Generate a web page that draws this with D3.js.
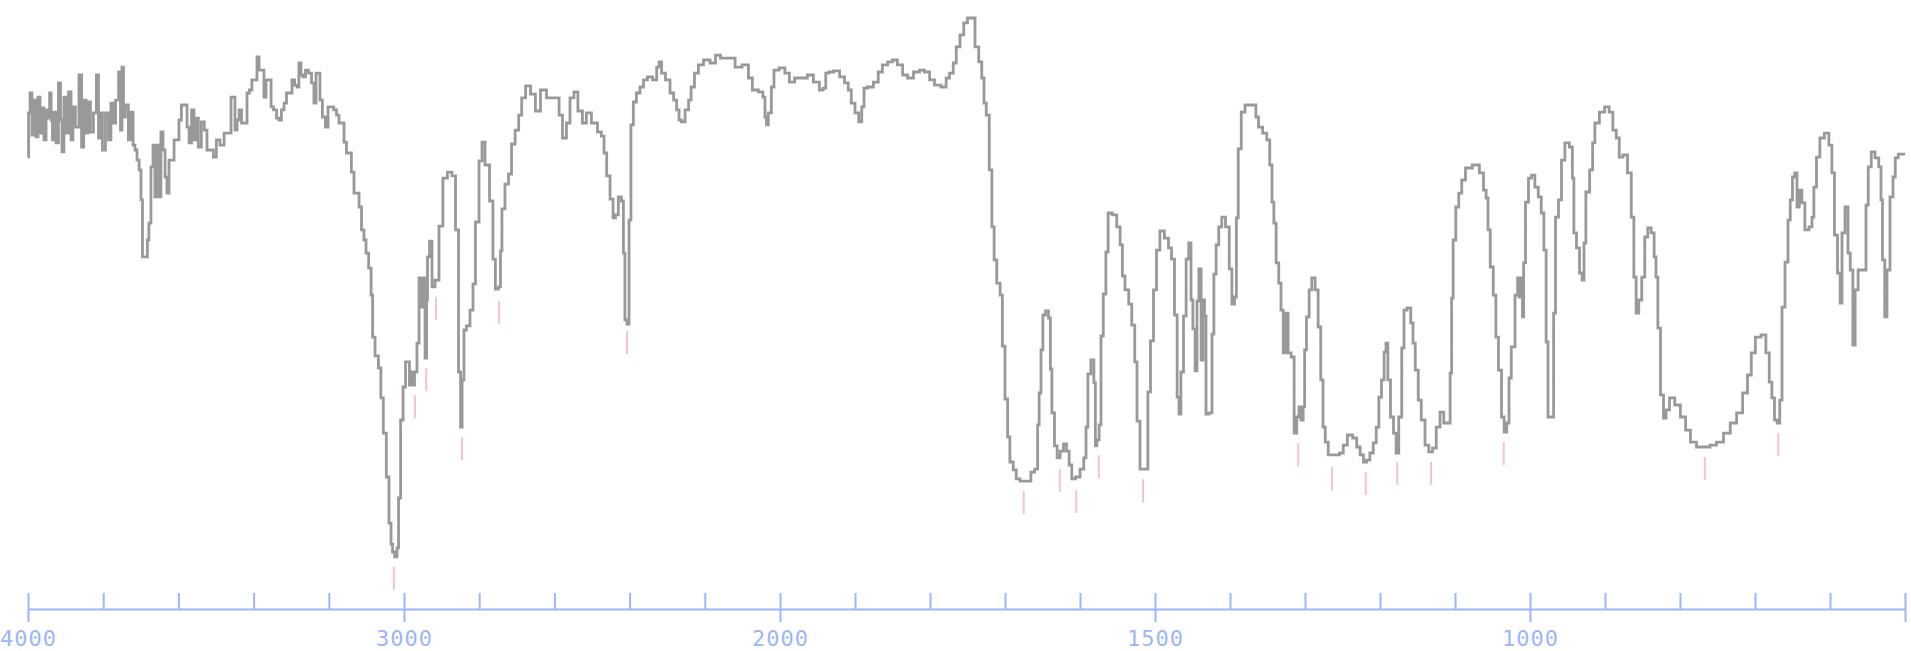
<!DOCTYPE html>
<html>
<head>
<meta charset="utf-8">
<script src="https://cdn.jsdelivr.net/npm/d3@7/dist/d3.min.js"></script>
<style>
  html, body { margin: 0; padding: 0; background: #ffffff; }
  svg { display: block; }
  .axis path, .axis line { stroke: #9db5fb; stroke-width: 2px; }
  .axis text { fill: #9db5fb; font-family: "DejaVu Sans Mono", monospace; font-size: 22px; letter-spacing: 1px; }
</style>
</head>
<body>
<div id="chart"></div>
<script>
// IR spectrum, [wavenumber (cm-1), transmittance (%)]
const spectrum = [
  [4000,73.8],[3997,81.2],[3992,84.5],[3987,77.5],[3981,83.3],[3976,77.2],[3971,83.8],[3965,77.8],
  [3960,82],[3955,76.7],[3949,81.7],[3944,80.3],[3941,84.5],[3936,80],[3934,76.7],[3928,81.3],
  [3923,76.2],[3915,86.2],[3912,80],[3907,74.7],[3902,83.8],[3896,77.8],[3888,84.7],[3883,76.7],
  [3878,82.2],[3870,78.8],[3859,87.5],[3856,75.5],[3848,83.3],[3843,77.8],[3838,83],[3830,78],
  [3822,81.2],[3814,87.5],[3811,77],[3806,81.2],[3798,75],[3790,81.2],[3782,76.7],[3777,82.8],
  [3771,79.5],[3763,83.3],[3755,88],[3753,78.3],[3747,88.8],[3745,80.5],[3737,82.5],[3729,76.7],
  [3723,81.3],[3718,75.8],[3713,75],[3707,73.3],[3702,71.7],[3697,66.7],[3694,57.2],[3684,57.2],
  [3681,60],[3676,62.8],[3670,72.2],[3665,75.8],[3660,67.2],[3654,75.8],[3649,67.2],[3644,78],
  [3638,75],[3633,70.5],[3628,67.8],[3622,73.3],[3614,73.3],[3609,76.7],[3601,76.7],[3596,80],
  [3588,82.5],[3580,82.5],[3574,78.8],[3569,76.2],[3561,81.7],[3556,76.7],[3551,80.3],[3543,75.5],
  [3535,79.7],[3527,78.3],[3521,75],[3511,75],[3503,73.8],[3495,76.7],[3484,75.8],[3473,77.8],
  [3463,77.8],[3457,83.8],[3452,83.8],[3447,78.3],[3441,80],[3436,81.7],[3428,79.5],[3420,79.5],
  [3415,84.5],[3407,85],[3402,86.7],[3394,86.7],[3388,90.5],[3383,88.3],[3375,88.3],[3370,83.8],
  [3364,86.7],[3356,86.7],[3351,82.2],[3343,81.7],[3335,80.3],[3330,80],[3322,81.7],[3316,82.8],
  [3309,84.5],[3301,84.5],[3295,86.7],[3287,85.8],[3282,85.5],[3277,89.5],[3271,87.5],[3266,87.2],
  [3258,88.3],[3250,87.8],[3242,86.2],[3237,82.8],[3231,87.8],[3226,87.8],[3221,83.3],[3213,80.5],
  [3205,78.8],[3199,82.2],[3191,82.2],[3183,81.7],[3176,80.8],[3170,79.5],[3162,79.5],[3157,76.3],
  [3149,74.5],[3144,74.5],[3136,71.3],[3130,67.8],[3122,67.8],[3117,65.5],[3109,61.7],[3104,60],
  [3098,57.8],[3090,55.3],[3085,50.8],[3082,43.8],[3072,40.7],[3064,38.7],[3059,33.7],[3051,27.8],
  [3043,20.5],[3037,12.8],[3032,9.3],[3029,8],[3021,7.2],[3016,8.7],[3013,17],[3005,30],
  [3000,35.5],[2992,39.7],[2987,39.7],[2984,35.8],[2981,38],[2976,35.8],[2968,38],[2963,42.8],
  [2957,53.7],[2949,48.8],[2947,53.7],[2941,40.3],[2939,50],[2936,57.2],[2928,59.8],[2923,52.2],
  [2912,53.3],[2902,62.3],[2891,70.3],[2878,71.3],[2867,70.7],[2859,61.7],[2851,38],[2848,28.8],
  [2843,36.7],[2838,45],[2830,45.7],[2819,48.3],[2814,52.7],[2806,63],[2795,73.2],[2790,76.3],
  [2779,72.5],[2766,66.5],[2761,56.8],[2753,51.8],[2745,52.2],[2742,58.2],[2737,65.2],[2726,69.3],
  [2718,71],[2710,76],[2699,78.3],[2691,80.8],[2683,83.7],[2670,85.7],[2657,84.3],[2644,81.5],
  [2630,85],[2612,83.7],[2590,83.7],[2585,80.8],[2572,77],[2564,79.5],[2553,83.7],[2543,84.7],
  [2532,81.5],[2519,79.5],[2511,81.2],[2492,79.5],[2479,78],[2471,77.3],[2465,74.5],[2457,70.7],
  [2447,66.8],[2441,63.7],[2434,64.2],[2426,67.2],[2418,66.5],[2415,57.8],[2410,46.7],[2404,46],
  [2399,63.3],[2394,79.2],[2386,83],[2378,84.5],[2367,85.5],[2359,86.7],[2346,87.2],[2332,86.7],
  [2324,88.8],[2319,89.7],[2311,87.8],[2298,86.7],[2287,84.5],[2279,83.3],[2271,81.7],[2266,80],
  [2258,79.7],[2247,81.7],[2239,83.3],[2234,85.5],[2221,87.8],[2213,89.2],[2194,90],[2178,89.5],
  [2165,90.8],[2152,90.3],[2125,90.3],[2114,88.8],[2088,89.2],[2080,87],[2067,85],[2048,84.7],
  [2043,83.8],[2037,80.5],[2035,79.2],[2027,81.2],[2019,85.5],[2013,88.3],[1996,88.7],[1991,87.8],
  [1984,86.3],[1977,87],[1967,87],[1960,87.5],[1951,86.3],[1944,85],[1941,85.3],[1937,87.8],
  [1933,88],[1924,88.2],[1917,87.2],[1911,86.2],[1907,85],[1903,82.8],[1897,81.2],[1893,79.7],
  [1889,82.2],[1887,85.3],[1880,85.5],[1871,86.3],[1867,88],[1860,89.2],[1853,89.7],[1847,90],
  [1840,89.2],[1833,87.5],[1827,87],[1817,88],[1811,88.3],[1804,88],[1797,86.7],[1791,85.8],
  [1780,85.5],[1777,87],[1771,87.8],[1767,89.5],[1763,92.2],[1757,94.2],[1753,96.2],[1747,97],
  [1743,97],[1737,92.2],[1733,89.7],[1729,87],[1727,82.8],[1723,80.8],[1719,71.7],[1716,62.2],
  [1713,56.7],[1709,52.8],[1704,50.8],[1703,42.3],[1697,33.5],[1696,27.2],[1691,23],[1687,21.7],
  [1683,20.2],[1677,19.8],[1667,19.8],[1664,21.3],[1657,21.8],[1656,29.2],[1653,34.5],[1651,41.7],
  [1648,47.5],[1644,48.2],[1640,47],[1639,38.5],[1636,31.2],[1632,25.7],[1629,23.7],[1624,24.8],
  [1620,26],[1616,24.8],[1613,22.5],[1609,20.2],[1603,20.5],[1597,21.8],[1593,23.7],[1591,28.8],
  [1588,37.7],[1583,40],[1580,36.2],[1579,25.7],[1576,26.7],[1573,29.2],[1571,44],[1567,51],
  [1564,58],[1561,64.5],[1553,64.2],[1549,62.2],[1544,59.2],[1543,54],[1537,51.7],[1533,49.3],
  [1529,45.8],[1525,39.7],[1523,29.8],[1517,21.8],[1511,21.8],[1508,34.7],[1504,43.2],[1500,51.7],
  [1496,58.3],[1491,61.5],[1484,60.3],[1480,58.7],[1476,56.8],[1472,47.5],[1469,33.8],[1467,31],
  [1464,38],[1460,47.3],[1457,56.8],[1453,59.5],[1451,50],[1448,45.2],[1445,38.2],[1443,49.8],
  [1440,55.2],[1437,40],[1435,50],[1433,47.3],[1431,31],[1425,31.2],[1423,44.3],[1420,54.3],
  [1417,59.2],[1413,62.2],[1409,63.8],[1403,62.2],[1399,55.2],[1396,49.3],[1392,50.5],[1391,63.7],
  [1387,75.2],[1383,81.3],[1377,82.5],[1367,82.5],[1364,80.5],[1360,78.8],[1353,77.8],[1349,76.7],
  [1345,72.5],[1343,66.3],[1340,62.8],[1337,56.2],[1333,52.8],[1331,48.3],[1327,41.2],[1324,47.8],
  [1321,41.2],[1316,40.5],[1313,27.8],[1309,30.5],[1307,32.2],[1304,30],[1301,32.2],[1300,41.7],
  [1296,47.2],[1293,51.7],[1289,53.7],[1284,51.7],[1281,45.5],[1277,36.7],[1275,28.8],[1271,26.3],
  [1267,24.2],[1257,24.2],[1251,24.5],[1247,25.8],[1240,27.5],[1233,27],[1229,25.5],[1224,24.2],
  [1220,23],[1216,23.3],[1211,24.5],[1207,26.2],[1203,28.8],[1200,33.8],[1196,36.7],[1193,41.3],
  [1191,42.8],[1188,36.7],[1184,30.5],[1180,27.8],[1177,24.5],[1173,30.5],[1169,42],[1167,48.3],
  [1161,48.7],[1157,46.2],[1155,42.8],[1151,38.3],[1147,33.3],[1143,30],[1137,25.8],[1133,24.7],
  [1127,25.3],[1123,28.8],[1117,31.3],[1113,29.5],[1108,29.5],[1105,37.8],[1104,50.3],[1101,60],
  [1097,65.5],[1093,67.8],[1089,70],[1083,72],[1071,72.5],[1064,71.2],[1060,68.3],[1057,67],
  [1055,61.7],[1051,55.5],[1047,50.8],[1044,43.8],[1040,38.3],[1036,30.5],[1033,28],[1029,29.5],
  [1027,37],[1023,42.2],[1017,50.8],[1016,53.7],[1013,50.5],[1011,53.7],[1009,47.2],[1008,56.2],
  [1004,66.3],[1000,70.3],[996,70.8],[991,68.8],[987,67.2],[983,64.5],[980,58.3],[977,43],
  [975,30.5],[969,30.5],[968,47.8],[964,63.8],[960,66.7],[956,73.3],[951,76.2],[944,75.5],
  [943,70.3],[940,61.2],[936,58.7],[932,54.5],[929,53.3],[927,59.5],[924,68],[917,71.7],
  [916,76.2],[911,79.5],[904,81.3],[897,82.2],[892,81.3],[887,78.3],[883,77],[879,73.8],
  [873,74.2],[867,71.2],[863,63.8],[860,53.8],[857,47.8],[853,50],[849,53.8],[845,60.5],
  [841,62],[836,61.2],[833,57.2],[831,53.8],[828,45.3],[824,34.2],[820,30.3],[817,31.7],
  [811,33.7],[803,32.5],[796,30.5],[789,28.3],[783,26.3],[773,25.5],[764,25.5],[756,25.8],
  [747,26.3],[737,27.8],[729,29.5],[720,31.2],[713,34.5],[707,37.5],[703,41.2],[696,43.8],
  [688,44.2],[683,41.2],[679,36.3],[676,33.7],[672,30],[669,29.5],[665,33.3],[663,48.8],
  [657,56.3],[655,63.3],[651,66.7],[649,70.5],[645,71.2],[643,65.5],[639,68.3],[636,66.2],
  [631,61.7],[625,62.2],[623,63.8],[620,68.8],[616,73.8],[611,77],[604,77.8],[599,75.8],
  [596,71.2],[592,60.8],[588,54.5],[585,49.5],[583,61.2],[577,65.5],[575,57.8],[571,55],
  [568,42.5],[565,51.7],[560,55],[553,55],[551,65.8],[547,72.2],[543,74.7],[537,73.7],
  [533,72.2],[531,66.7],[529,56.7],[525,47.2],[523,55],[517,67.2],[515,70.5],[511,73.7],
  [507,74.3],[500,74.3]
]

// picked peaks, [wavenumber, transmittance at the minimum]
const peaks = [
  [3027,7.2],[2971,35.8],[2941,40.3],[2915,52.2],[2846,28.8],[2747,51.5],[2407,46.5],
  [1675,19.8],[1627,23.5],[1605,20],[1575,25.8],[1516,21.8],[1309,27.8],[1264,23.8],
  [1219,23],[1177,24.7],[1132,24.7],[1035,28],[767,25.5],[669,29.5]
]

// axis ticks (cm-1): 200 steps above 2000, 100 steps below
const minorTicks = d3.range(4000, 2000, -200).concat(d3.range(2000, 499, -100))
const majorTicks = [4000, 3000, 2000, 1500, 1000, 500]
const tickLabels = [4000, 3000, 2000, 1500, 1000]

const width = 1911
const height = 651
const axisY = 609

const svg = d3.select("#chart").append("svg")
    .attr("width", width)
    .attr("height", height)

/** x scale: scale changes at 2000 cm-1 */
const x = d3.scaleLinear()
    .domain([4000, 2000, 500])
    .range([28, 780, 1905])

/** y scale: transmittance */
const y = d3.scaleLinear()
    .domain([0, 100])
    .range([600, 0])

// spectrum line
const line = d3.line()
    .x(d => x(d[0]))
    .y(d => y(d[1]))
    .curve(d3.curveStep)

svg.append("path")
    .datum(spectrum)
    .attr("fill", "none")
    .attr("stroke", "#999999")
    .attr("stroke-width", 2.8)
    .attr("stroke-linejoin", "miter")
    .attr("d", line)

// peak markers
svg.append("g")
    .selectAll("line")
    .data(peaks)
    .enter()
    .append("line")
    .attr("x1", d => x(d[0]))
    .attr("x2", d => x(d[0]))
    .attr("y1", d => y(d[1]) + 10)
    .attr("y2", d => y(d[1]) + 33)
    .attr("stroke", "#f6c4c4")
    .attr("stroke-width", 2)

// minor ticks (upwards)
svg.append("g")
    .attr("class", "axis")
    .attr("transform", `translate(0,${axisY})`)
    .call(d3.axisTop(x).tickValues(minorTicks).tickSize(16).tickSizeOuter(0).tickFormat(() => ""))

// major ticks (down) + labels
const major = svg.append("g")
    .attr("class", "axis")
    .attr("transform", `translate(0,${axisY})`)
    .call(d3.axisBottom(x).tickValues(majorTicks).tickSize(13).tickSizeOuter(0)
        .tickPadding(8)
        .tickFormat(d => tickLabels.includes(d) ? d : ""))
major.select(".domain").remove()
major.selectAll("text").attr("dy", "0.72em")
</script>
</body>
</html>
